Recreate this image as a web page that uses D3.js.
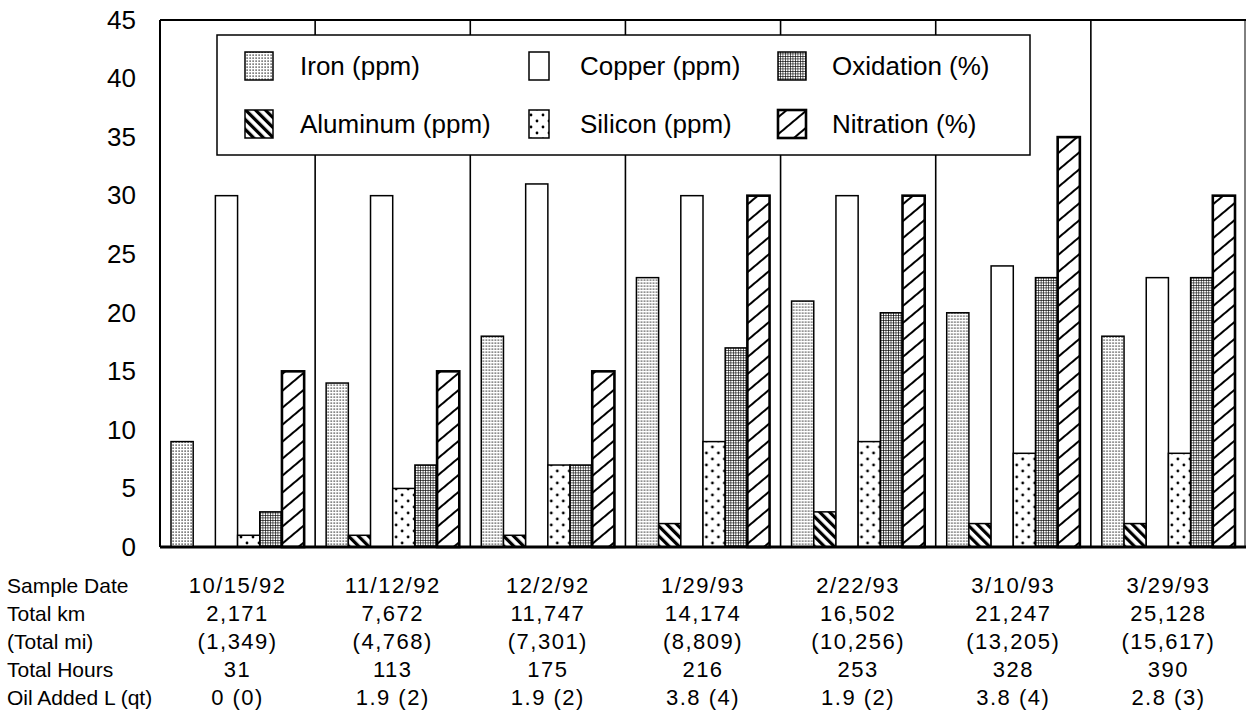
<!DOCTYPE html>
<html>
<head>
<meta charset="utf-8">
<script src="https://cdn.jsdelivr.net/npm/d3@7"></script>
<style>
  body { margin: 0; background: #fff; }
  svg { display: block; font-family: "Liberation Sans", Arial, sans-serif; }
</style>
</head>
<body>
<div class="graph"></div>
<script>
// sample dates (one group of bars each)
var dates = ["10/15/92", "11/12/92", "12/2/92", "1/29/93", "2/22/93", "3/10/93", "3/29/93"];

// series values
var iron      = [9, 14, 18, 23, 21, 20, 18];
var aluminum  = [0, 1, 1, 2, 3, 2, 2];
var copper    = [30, 30, 31, 30, 30, 24, 23];
var silicon   = [1, 5, 7, 9, 9, 8, 8];
var oxidation = [3, 7, 7, 17, 20, 23, 23];
var nitration = [15, 15, 15, 30, 30, 35, 30];

var seriesNames = ["Iron (ppm)", "Aluminum (ppm)", "Copper (ppm)", "Silicon (ppm)", "Oxidation (%)", "Nitration (%)"];
var seriesKeys  = ["iron", "aluminum", "copper", "silicon", "oxidation", "nitration"];
var seriesVals  = [iron, aluminum, copper, silicon, oxidation, nitration];

var yTicks = [0, 5, 10, 15, 20, 25, 30, 35, 40, 45];

// table under the chart
var rowLabels = ["Sample Date", "Total km", "(Total mi)", "Total Hours", "Oil Added L (qt)"];
var totalKm   = ["2,171", "7,672", "11,747", "14,174", "16,502", "21,247", "25,128"];
var totalMi   = ["(1,349)", "(4,768)", "(7,301)", "(8,809)", "(10,256)", "(13,205)", "(15,617)"];
var totalHrs  = ["31", "113", "175", "216", "253", "328", "390"];
var oilAdded  = ["0 (0)", "1.9 (2)", "1.9 (2)", "3.8 (4)", "1.9 (2)", "3.8 (4)", "2.8 (3)"];

var W = 1246, H = 722;
var plot = {left: 160, right: 1246, top: 20, bottom: 547};

var svg = d3.select(".graph").append("svg")
    .attr("width", W)
    .attr("height", H);

svg.append("rect").attr("width", W).attr("height", H).attr("fill", "#fff");

// fill patterns
var defs = svg.append("defs");

var p = defs.append("pattern").attr("id", "pat-iron")
    .attr("patternUnits", "userSpaceOnUse").attr("width", 3).attr("height", 3);
p.append("rect").attr("width", 3).attr("height", 3).attr("fill", "#fff");
p.append("rect").attr("x", 0.5).attr("y", 0.5).attr("width", 1.2).attr("height", 1.2).attr("fill", "#000");

p = defs.append("pattern").attr("id", "pat-aluminum")
    .attr("patternUnits", "userSpaceOnUse").attr("width", 7).attr("height", 7)
    .attr("patternTransform", "rotate(-45)");
p.append("rect").attr("width", 7).attr("height", 7).attr("fill", "#fff");
p.append("rect").attr("x", 0).attr("y", 0).attr("width", 3.2).attr("height", 7).attr("fill", "#000");

p = defs.append("pattern").attr("id", "pat-silicon")
    .attr("patternUnits", "userSpaceOnUse").attr("width", 12).attr("height", 12);
p.append("rect").attr("width", 12).attr("height", 12).attr("fill", "#fff");
p.append("circle").attr("cx", 3).attr("cy", 3).attr("r", 1.4).attr("fill", "#000");
p.append("circle").attr("cx", 9).attr("cy", 9).attr("r", 1.4).attr("fill", "#000");

p = defs.append("pattern").attr("id", "pat-oxidation")
    .attr("patternUnits", "userSpaceOnUse").attr("width", 2.5).attr("height", 2.5);
p.append("rect").attr("width", 2.5).attr("height", 2.5).attr("fill", "#fff");
p.append("rect").attr("x", 0).attr("y", 0).attr("width", 2.5).attr("height", 0.6).attr("fill", "#000");
p.append("rect").attr("x", 0).attr("y", 0).attr("width", 0.6).attr("height", 2.5).attr("fill", "#000");

p = defs.append("pattern").attr("id", "pat-nitration")
    .attr("patternUnits", "userSpaceOnUse").attr("width", 13).attr("height", 13)
    .attr("patternTransform", "rotate(50)");
p.append("rect").attr("width", 13).attr("height", 13).attr("fill", "#fff");
p.append("rect").attr("x", 0).attr("y", 0).attr("width", 2).attr("height", 13).attr("fill", "#000");

function fillFor(key) {
    return key === "copper" ? "#fff" : "url(#pat-" + key + ")";
}

// scales
var x0 = d3.scaleBand().domain(dates).range([plot.left, plot.right]).padding(0);
var x1 = d3.scaleBand().domain(seriesKeys).range([11, x0.bandwidth() - 11]).padding(0);
var y = d3.scaleLinear().domain([0, 45]).range([plot.bottom, plot.top]);

// group separators
svg.append("g").selectAll("line")
    .data(dates.slice(1))
    .enter().append("line")
    .attr("x1", function(d) { return x0(d); })
    .attr("x2", function(d) { return x0(d); })
    .attr("y1", plot.top)
    .attr("y2", plot.bottom)
    .attr("stroke", "#000")
    .attr("stroke-width", 1.6);

// bars
var rows = dates.map(function(d, i) {
    return seriesKeys.map(function(k, j) { return {date: d, key: k, value: seriesVals[j][i]}; });
});

var groups = svg.append("g").selectAll("g")
    .data(rows)
    .enter().append("g")
    .attr("transform", function(d, i) { return "translate(" + x0(dates[i]) + ",0)"; });

groups.selectAll("rect")
    .data(function(d) { return d.filter(function(b) { return b.value > 0; }); })
    .enter().append("rect")
    .attr("x", function(d) { return x1(d.key); })
    .attr("y", function(d) { return y(d.value); })
    .attr("width", x1.bandwidth())
    .attr("height", function(d) { return y(0) - y(d.value); })
    .attr("fill", function(d) { return fillFor(d.key); })
    .attr("stroke", "#000")
    .attr("stroke-width", function(d) { return d.key === "nitration" ? 2.6 : 1.5; });

// frame
svg.append("line").attr("x1", plot.left).attr("x2", plot.right)
    .attr("y1", plot.top).attr("y2", plot.top).attr("stroke", "#000").attr("stroke-width", 2);
svg.append("line").attr("x1", plot.left).attr("x2", plot.left)
    .attr("y1", plot.top).attr("y2", plot.bottom).attr("stroke", "#000").attr("stroke-width", 2);
svg.append("line").attr("x1", plot.right - 1).attr("x2", plot.right - 1)
    .attr("y1", plot.top).attr("y2", plot.bottom).attr("stroke", "#000").attr("stroke-width", 1);
svg.append("line").attr("x1", plot.left).attr("x2", plot.right)
    .attr("y1", plot.bottom).attr("y2", plot.bottom).attr("stroke", "#000").attr("stroke-width", 3);

// y axis labels (no tick marks in the original)
var yAxis = d3.axisLeft(y).tickValues(yTicks).tickSize(0).tickPadding(24);
var ya = svg.append("g")
    .attr("transform", "translate(" + plot.left + ",0)")
    .call(yAxis);
ya.select(".domain").remove();
ya.selectAll("text")
    .attr("font-family", "Liberation Sans, Arial, sans-serif")
    .attr("font-size", 26)
    .attr("fill", "#000");

// legend
var legend = svg.append("g");
legend.append("rect")
    .attr("x", 217).attr("y", 35).attr("width", 813).attr("height", 120)
    .attr("fill", "#fff").attr("stroke", "#000").attr("stroke-width", 1.5);

var legendCols = [245, 529, 778];     // swatch left edges
var swatchW    = [28, 20, 28];
var textX      = [300, 580, 832];
var legendRows = [66, 124];           // row centres
var items = legend.selectAll(".item")
    .data(seriesKeys)
    .enter().append("g")
    .attr("class", "item")
    .attr("transform", function(d, i) {
        return "translate(0," + legendRows[i % 2] + ")";
    });
items.append("rect")
    .attr("x", function(d, i) { return legendCols[Math.floor(i / 2)]; })
    .attr("y", -14)
    .attr("width", function(d, i) { return swatchW[Math.floor(i / 2)]; })
    .attr("height", 28)
    .attr("fill", function(d) { return fillFor(d); })
    .attr("stroke", "#000")
    .attr("stroke-width", function(d) { return d === "nitration" ? 2.6 : 1.5; });
items.append("text")
    .attr("x", function(d, i) { return textX[Math.floor(i / 2)]; })
    .attr("y", 9)
    .attr("font-size", 26)
    .attr("fill", "#000")
    .text(function(d, i) { return seriesNames[i]; });

// table under the chart
var tableRows = [dates, totalKm, totalMi, totalHrs, oilAdded];
var rowY = [593, 621, 649, 677, 705];

var table = svg.append("g").attr("font-size", 21).attr("fill", "#000");
table.selectAll(".rowlabel")
    .data(rowLabels)
    .enter().append("text")
    .attr("class", "rowlabel")
    .attr("x", 7)
    .attr("y", function(d, i) { return rowY[i]; })
    .text(function(d) { return d; });

tableRows.forEach(function(vals, r) {
    table.selectAll(".cell-" + r)
        .data(vals)
        .enter().append("text")
        .attr("class", "cell-" + r)
        .attr("x", function(d, i) { return x0(dates[i]) + x0.bandwidth() / 2; })
        .attr("y", rowY[r])
        .attr("text-anchor", "middle")
        .attr("font-size", 22)
        .attr("letter-spacing", 1.5)
        .text(function(d) { return d; });
});
</script>
</body>
</html>
